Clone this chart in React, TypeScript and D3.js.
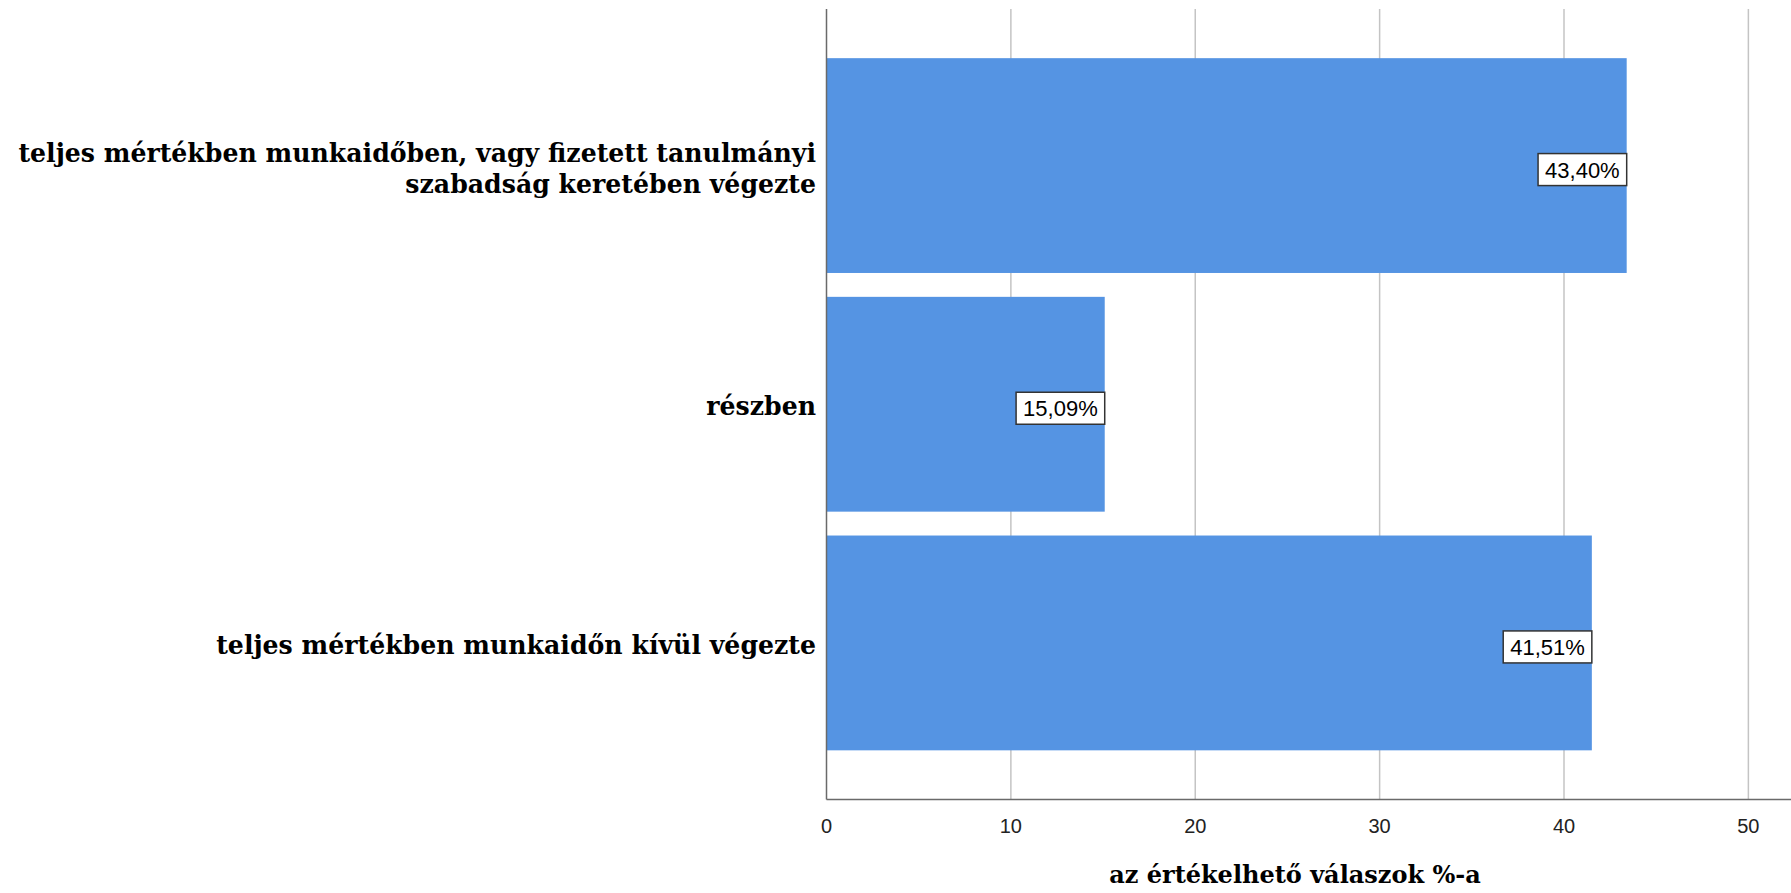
import React, { useEffect, useRef } from 'react';
import * as d3 from 'd3';

const categories: string[][] = [
  ['teljes mértékben munkaidőben, vagy fizetett tanulmányi', 'szabadság keretében végezte'],
  ['részben'],
  ['teljes mértékben munkaidőn kívül végezte'],
];
const values = [43.4, 15.09, 41.51];
const valueLabels = ['43,40%', '15,09%', '41,51%'];
const xTicks = [0, 10, 20, 30, 40, 50];
const xTitle = 'az értékelhető válaszok %-a';

const W = 1791;
const H = 893;

export default function App() {
  const svgRef = useRef<SVGSVGElement>(null);

  useEffect(() => {
    if (!svgRef.current) return;
    const svg = d3.select(svgRef.current);
    svg.selectAll('*').remove();

    const plot = { left: 826.5, right: 1800, top: 9, bottom: 799.5 };
    const serif = '"DejaVu Serif", serif';
    const sans = '"Liberation Sans", Arial, sans-serif';

    const x = d3.scaleLinear().domain([0, 52.8]).range([plot.left, plot.right]);
    const y = d3.scaleBand<number>()
      .domain(d3.range(categories.length))
      .range([plot.top, plot.bottom])
      .paddingInner(0.1)
      .paddingOuter(0.206);

    // grid
    svg.append('g')
      .selectAll('line')
      .data(xTicks.filter(t => t > 0))
      .join('line')
      .attr('x1', d => x(d))
      .attr('x2', d => x(d))
      .attr('y1', plot.top)
      .attr('y2', plot.bottom)
      .attr('stroke', '#c4c4c4')
      .attr('stroke-width', 1.5);

    // bars
    svg.append('g')
      .selectAll('rect')
      .data(values)
      .join('rect')
      .attr('x', x(0))
      .attr('y', (_, i) => y(i)!)
      .attr('width', d => x(d) - x(0))
      .attr('height', y.bandwidth())
      .attr('fill', '#5594e3');

    // axes lines
    svg.append('line')
      .attr('x1', plot.left).attr('x2', plot.left)
      .attr('y1', plot.top).attr('y2', plot.bottom)
      .attr('stroke', '#6a6a6a').attr('stroke-width', 1.5);
    svg.append('line')
      .attr('x1', plot.left).attr('x2', W)
      .attr('y1', plot.bottom).attr('y2', plot.bottom)
      .attr('stroke', '#6a6a6a').attr('stroke-width', 1.5);

    // tick labels
    svg.append('g')
      .selectAll('text')
      .data(xTicks)
      .join('text')
      .attr('x', d => x(d))
      .attr('y', 833)
      .attr('text-anchor', 'middle')
      .attr('font-family', sans)
      .attr('font-size', 20)
      .attr('fill', '#222')
      .text(d => String(d));

    // category labels
    categories.forEach((lines, i) => {
      const cy = y(i)! + y.bandwidth() / 2;
      const t = svg.append('text')
        .attr('text-anchor', 'end')
        .attr('font-family', serif)
        .attr('font-weight', 'bold')
        .attr('font-size', 25.2)
        .attr('fill', '#000');
      const first = cy + 11 - (lines.length - 1) * 15.5 + (lines.length > 1 ? 0.5 : 0);
      lines.forEach((ln, j) => {
        t.append('tspan')
          .attr('x', 816)
          .attr('y', first + j * 31)
          .text(ln);
      });
    });

    // value labels
    values.forEach((v, i) => {
      const cy = y(i)! + y.bandwidth() / 2 + 4;
      const g = svg.append('g');
      const rect = g.append('rect');
      const txt = g.append('text')
        .attr('font-family', sans)
        .attr('font-size', 22)
        .attr('fill', '#000')
        .attr('text-anchor', 'middle')
        .text(valueLabels[i]);
      const tw = (txt.node() as SVGTextElement).getComputedTextLength();
      const bw = tw + 14;
      const bh = 32;
      const right = x(v);
      rect.attr('x', right - bw)
        .attr('y', cy - bh / 2)
        .attr('width', bw)
        .attr('height', bh)
        .attr('fill', '#fff')
        .attr('stroke', '#333')
        .attr('stroke-width', 1.5);
      txt.attr('x', right - bw / 2).attr('y', cy + 8);
    });

    // axis title
    svg.append('text')
      .attr('x', 1295)
      .attr('y', 883)
      .attr('text-anchor', 'middle')
      .attr('font-family', serif)
      .attr('font-weight', 'bold')
      .attr('font-size', 24)
      .attr('fill', '#000')
      .text(xTitle);
  }, []);

  return (
    <svg
      ref={svgRef}
      width={W}
      height={H}
      style={{ position: 'absolute', left: 0, top: 0, background: '#fff' }}
    />
  );
}
